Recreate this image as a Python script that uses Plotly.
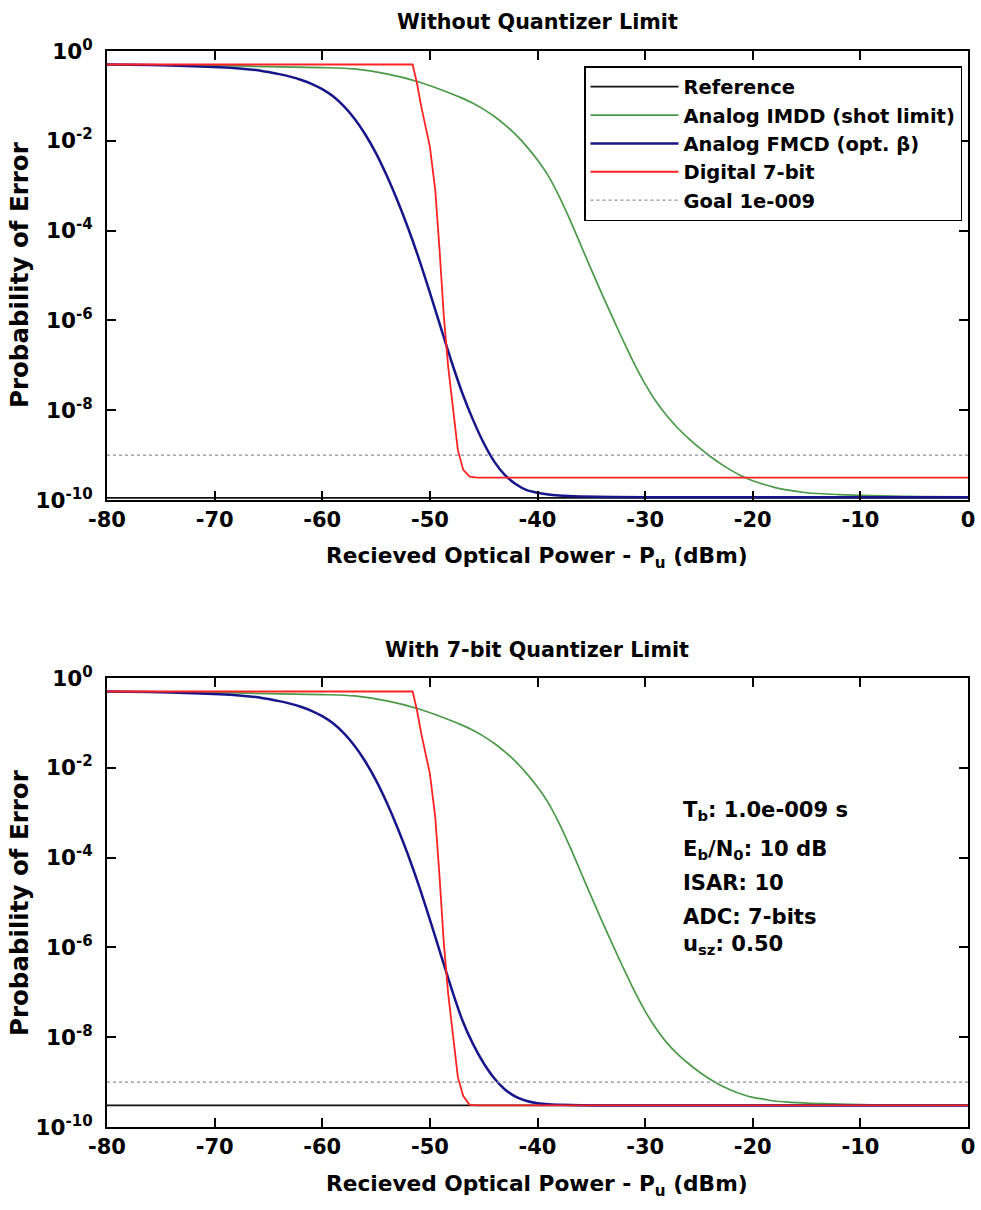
import plotly.graph_objects as go

W, H = 981, 1210

# ---------------- data ----------------
# Received optical power (dBm) and probability of error
ref_x = [-80, 0]
ref_top = [1.12e-10, 1.12e-10]
ref_bot = [3.02e-10, 3.02e-10]

imdd_x = [-80, -70, -65, -60, -57, -54, -51, -48, -47, -46, -45, -44, -43, -42, -41,
          -40, -39, -38, -37, -36, -35, -34, -33, -32, -31, -30, -29, -28, -27, -26,
          -25, -24, -23, -22, -21, -20, -19, -18, -17, -15, -12, -8, -4, 0]
imdd_top = [0.501, 0.479, 0.447, 0.427, 0.398, 0.309, 0.204, 0.112, 0.0891, 0.0684,
            0.0501, 0.0347, 0.0224, 0.0135, 7.41e-3, 3.72e-3, 1.66e-3, 5.89e-4, 1.78e-4,
            4.90e-5, 1.35e-5, 3.80e-6, 1.12e-6, 3.39e-7, 1.07e-7, 3.80e-8, 1.58e-8,
            7.59e-9, 4.07e-9, 2.40e-9, 1.48e-9, 9.55e-10, 6.46e-10, 4.57e-10, 3.39e-10,
            2.69e-10, 2.24e-10, 1.91e-10, 1.70e-10, 1.45e-10, 1.32e-10, 1.23e-10,
            1.19e-10, 1.17e-10]
imdd_bot = [0.501, 0.479, 0.447, 0.427, 0.398, 0.309, 0.204, 0.112, 0.0891, 0.0684,
            0.0501, 0.0347, 0.0224, 0.0135, 7.41e-3, 3.72e-3, 1.66e-3, 5.89e-4, 1.78e-4,
            4.90e-5, 1.35e-5, 3.80e-6, 1.12e-6, 3.39e-7, 1.07e-7, 3.80e-8, 1.58e-8,
            7.59e-9, 4.27e-9, 2.63e-9, 1.70e-9, 1.17e-9, 8.51e-10, 6.61e-10, 5.37e-10,
            4.57e-10, 4.17e-10, 3.80e-10, 3.63e-10, 3.39e-10, 3.24e-10, 3.09e-10,
            3.05e-10, 3.02e-10]

fmcd_x = [-80, -76, -72, -69, -68, -67, -66, -65, -64, -63, -62, -61, -60, -59, -58,
          -57, -56, -55, -54, -53, -52, -51, -50, -49, -48, -47, -46, -45, -44, -43,
          -42, -41, -40, -39, -38, -36, -33, -30, 0]
fmcd_top = [0.501, 0.490, 0.457, 0.427, 0.412, 0.394, 0.372, 0.339, 0.305, 0.269,
            0.229, 0.186, 0.141, 0.0977, 0.0589, 0.0309, 0.0138, 5.25e-3, 1.66e-3,
            4.57e-4, 1.10e-4, 2.29e-5, 4.17e-6, 7.08e-7, 1.23e-7, 2.45e-8, 6.17e-9,
            1.86e-9, 7.08e-10, 3.55e-10, 2.24e-10, 1.66e-10, 1.45e-10, 1.32e-10,
            1.26e-10, 1.20e-10, 1.16e-10, 1.15e-10, 1.15e-10]
fmcd_bot = [0.501, 0.490, 0.457, 0.427, 0.412, 0.394, 0.372, 0.339, 0.305, 0.269,
            0.229, 0.186, 0.141, 0.0977, 0.0589, 0.0309, 0.0138, 5.25e-3, 1.66e-3,
            4.57e-4, 1.10e-4, 2.29e-5, 4.17e-6, 7.08e-7, 1.23e-7, 2.45e-8, 7.08e-9,
            2.63e-9, 1.20e-9, 6.76e-10, 4.68e-10, 3.80e-10, 3.39e-10, 3.20e-10,
            3.13e-10, 3.05e-10, 3.02e-10, 3.02e-10, 3.02e-10]

dig_x = [-80, -51.6, -51.2, -50.8, -50.0, -49.5, -49.1, -48.7, -48.3, -47.8, -47.4,
         -46.9, -46.3, -45.6, 0]
dig_top = [0.501, 0.501, 0.191, 0.0575, 7.41e-3, 7.94e-4, 3.72e-5, 1.20e-6, 9.33e-8,
           7.24e-9, 1.29e-9, 4.68e-10, 3.31e-10, 3.16e-10, 3.16e-10]
dig_bot = [0.501, 0.501, 0.191, 0.0575, 7.41e-3, 7.94e-4, 3.72e-5, 1.20e-6, 9.33e-8,
           7.24e-9, 1.29e-9, 4.90e-10, 3.12e-10, 3.02e-10, 3.02e-10]

goal_x = [-80, 0]
goal_y = [1e-9, 1e-9]

series_names = ["Reference", "Analog IMDD (shot limit)", "Analog FMCD (opt. β)",
                "Digital 7-bit", "Goal 1e-009"]
x_ticks = [-80, -70, -60, -50, -40, -30, -20, -10, 0]
y_tickvals = [1, 1e-2, 1e-4, 1e-6, 1e-8, 1e-10]
y_ticktext = ["10<sup>0</sup>", "10<sup>-2</sup>", "10<sup>-4</sup>",
              "10<sup>-6</sup>", "10<sup>-8</sup>", "10<sup>-10</sup>"]

titles = ["Without Quantizer Limit", "With 7-bit Quantizer Limit"]
x_title = "Recieved Optical Power - P<sub>u</sub> (dBm)"
y_title = "Probability of Error"
info_lines = ["T<sub>b</sub>: 1.0e-009 s", "E<sub>b</sub>/N<sub>0</sub>: 10 dB",
              "ISAR: 10", "ADC: 7-bits", "u<sub>sz</sub>: 0.50"]

# ---------------- styles ----------------
FONT = "DejaVu Sans, Verdana, sans-serif"
C_REF = "#111111"
C_IMDD = "#4a9a48"
C_FMCD = "#16168a"
C_DIG = "#ff2222"
C_GOAL = "#8c8ca0"


def px_x(p):
    return p / W


def px_y(p):
    return 1 - p / H


def bold(size):
    return dict(family=FONT, size=size, color="black", weight="bold")


fig = go.Figure()

panels = [
    ("x", "y", ref_top, imdd_top, fmcd_top, dig_top, True),
    ("x2", "y2", ref_bot, imdd_bot, fmcd_bot, dig_bot, False),
]
for xa, ya, rf, im, fm, dg, show in panels:
    fig.add_trace(go.Scatter(x=ref_x, y=rf, mode="lines", name=series_names[0],
                             line=dict(color=C_REF, width=1.7), xaxis=xa, yaxis=ya,
                             showlegend=show))
    fig.add_trace(go.Scatter(x=imdd_x, y=im, mode="lines", name=series_names[1],
                             line=dict(color=C_IMDD, width=1.7, shape="spline", smoothing=0.8),
                             xaxis=xa, yaxis=ya, showlegend=show))
    fig.add_trace(go.Scatter(x=fmcd_x, y=fm, mode="lines", name=series_names[2],
                             line=dict(color=C_FMCD, width=2.5, shape="spline", smoothing=0.8),
                             xaxis=xa, yaxis=ya, showlegend=show))
    fig.add_trace(go.Scatter(x=dig_x, y=dg, mode="lines", name=series_names[3],
                             line=dict(color=C_DIG, width=1.8), xaxis=xa, yaxis=ya,
                             showlegend=show))
    fig.add_trace(go.Scatter(x=goal_x, y=goal_y, mode="lines", name=series_names[4],
                             line=dict(color=C_GOAL, width=1.3, dash="dot"), xaxis=xa,
                             yaxis=ya, showlegend=show))

xcommon = dict(range=[-80, 0], tickvals=x_ticks, ticktext=[str(v) for v in x_ticks],
               showline=True, linecolor="black", linewidth=2, mirror="ticks",
               ticks="inside", ticklen=9, tickwidth=2, tickcolor="black",
               showgrid=False, zeroline=False, tickfont=bold(21),
               domain=[px_x(107), px_x(968)], ticklabelstandoff=0,
               ticklabeloverflow="allow", automargin=False)
ycommon = dict(type="log", range=[-10, 0], tickvals=y_tickvals, ticktext=y_ticktext,
               showline=True, linecolor="black", linewidth=2, mirror="ticks",
               ticks="inside", ticklen=9, tickwidth=2, tickcolor="black",
               showgrid=False, zeroline=False, tickfont=bold(21.5), ticklabelstandoff=8,
               automargin=False)

fig.update_layout(
    width=W, height=H,
    margin=dict(l=0, r=0, t=0, b=0),
    paper_bgcolor="white", plot_bgcolor="white",
    font=bold(21),
    xaxis=dict(**xcommon, anchor="y"),
    yaxis=dict(**ycommon, anchor="x", domain=[px_y(500), px_y(51)]),
    xaxis2=dict(**xcommon, anchor="y2"),
    yaxis2=dict(**ycommon, anchor="x2", domain=[px_y(1127), px_y(678)]),
    legend=dict(x=px_x(962), y=px_y(66), xanchor="right", yanchor="top",
                bgcolor="white", bordercolor="black", borderwidth=1.5,
                font=bold(19.5), tracegroupgap=0, itemwidth=88),
    showlegend=True,
)

annots = []
for t, yc in zip(titles, [22, 650]):
    annots.append(dict(text=t, x=px_x(537), y=px_y(yc), xref="paper", yref="paper",
                       xanchor="center", yanchor="middle", showarrow=False,
                       font=bold(20.7)))
for yc in [557, 1185]:
    annots.append(dict(text=x_title, x=px_x(537), y=px_y(yc), xref="paper", yref="paper",
                       xanchor="center", yanchor="middle", showarrow=False,
                       font=bold(21.7)))
for yc in [275, 903]:
    annots.append(dict(text=y_title, x=px_x(19), y=px_y(yc), xref="paper", yref="paper",
                       xanchor="center", yanchor="middle", showarrow=False, textangle=-90,
                       font=bold(24.5)))
for line, yc in zip(info_lines, [810, 849, 882, 916, 945]):
    annots.append(dict(text=line, x=px_x(681), y=px_y(yc), xref="paper", yref="paper",
                       xanchor="left", yanchor="middle", showarrow=False, align="left",
                       font=bold(21.1)))
fig.update_layout(annotations=annots)

fig.write_html("out.html")
